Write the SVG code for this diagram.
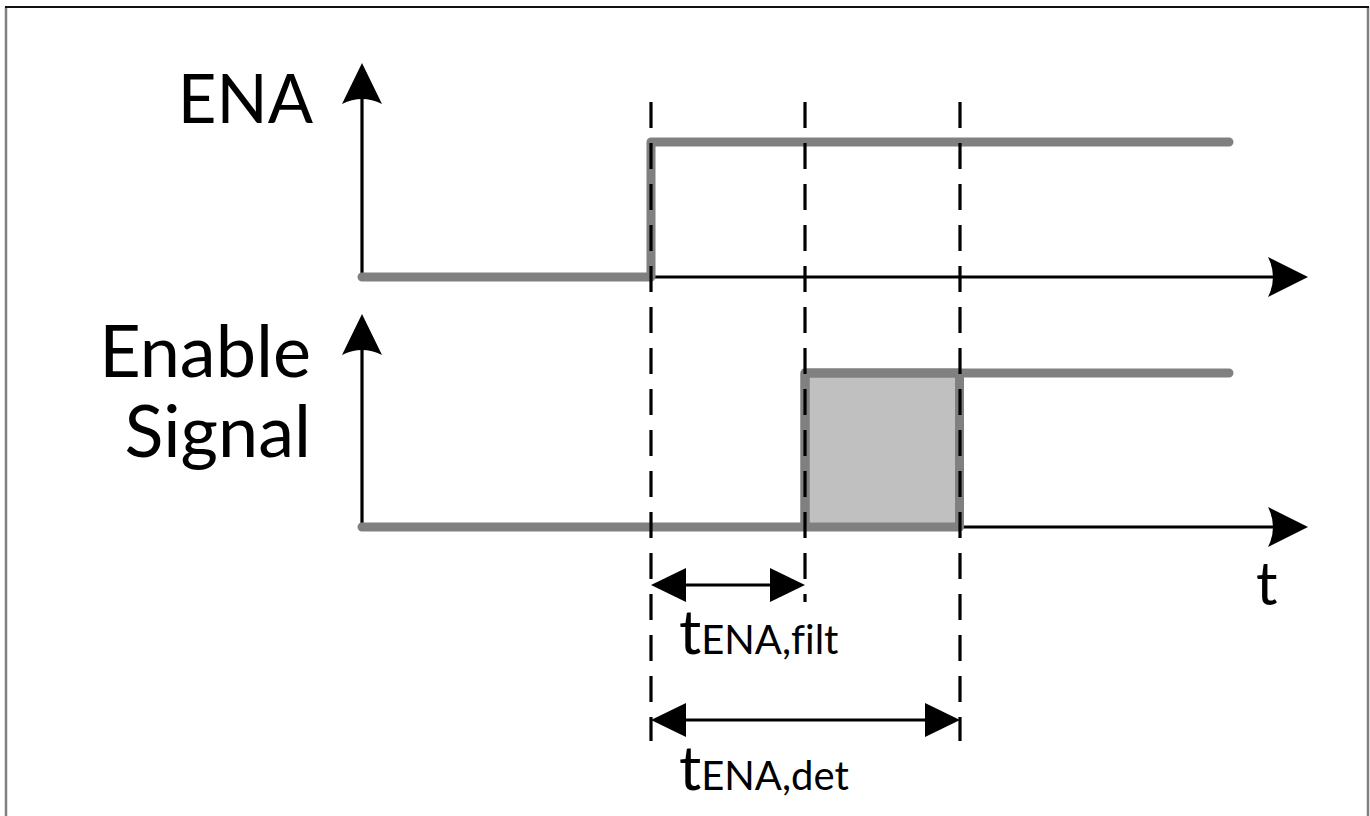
<svg xmlns="http://www.w3.org/2000/svg" width="1370" height="816" viewBox="0 0 1370 816">
<style>
.frameG{stroke:#808080;stroke-width:2.5;fill:none}
.axis{stroke:#000;stroke-width:3.2;fill:none}
.sig{stroke:#808080;stroke-width:9;fill:none;stroke-linecap:round;stroke-linejoin:round}
.dash{stroke:#000;stroke-width:3.2;fill:none;stroke-dasharray:26 15}
.head{fill:#000;stroke:none}
.lbl{font-family:Lato,"Open Sans","Liberation Sans",sans-serif;fill:#000;font-variant-ligatures:none;font-feature-settings:"liga" 0}
</style>
<rect x="0" y="0" width="1370" height="816" fill="#fff"/>
<g id="frame">
<line class="frameG" x1="6" y1="7" x2="6" y2="816"/>
<line class="frameG" x1="1368" y1="7" x2="1368" y2="816"/>
<line x1="5" y1="7" x2="1369" y2="7" stroke="#111" stroke-width="1.8"/>
</g>
<g id="connectors">
<g id="axes">
<line class="axis" x1="362" y1="98" x2="362" y2="277"/>
<line class="axis" x1="362" y1="277" x2="1275" y2="277"/>
<path class="head" d="M362,63 L382,104 Q362,94 342,104 Z"/>
<path class="head" d="M1308,277 L1268,257 Q1278,277 1268,297 Z"/>
<line class="axis" x1="362" y1="349" x2="362" y2="527"/>
<line class="axis" x1="362" y1="527" x2="1275" y2="527"/>
<path class="head" d="M362,314 L382,355 Q362,345 342,355 Z"/>
<path class="head" d="M1308,527 L1268,507 Q1278,527 1268,547 Z"/>
</g>
<g id="signals">
<path class="sig" d="M362,277 H651 V142 H1229"/>
<rect x="805" y="373" width="154.5" height="154" fill="#c0c0c0" stroke="#808080" stroke-width="9" stroke-linejoin="round"/>
<path class="sig" d="M362,527 H805 V373 H1229"/>
</g>
<g id="dashes">
<line class="dash" x1="651" y1="102" x2="651" y2="741"/>
<line class="dash" x1="805" y1="102" x2="805" y2="602"/>
<line class="dash" x1="960" y1="102" x2="960" y2="741"/>
</g>
<g id="dims">
<line class="axis" x1="680" y1="585" x2="776" y2="585"/>
<path class="head" d="M651,585 L686,568 L686,602 Z"/>
<path class="head" d="M805,585 L770,568 L770,602 Z"/>
<line class="axis" x1="680" y1="720" x2="930" y2="720"/>
<path class="head" d="M651,720 L686,703 L686,737 Z"/>
<path class="head" d="M960,720 L925,703 L925,737 Z"/>
</g>
</g>
<g id="label-ena"><text class="lbl" x="313" y="123" font-size="67" text-anchor="end">ENA</text></g>
<g id="label-enable"><text class="lbl" x="311" y="377" font-size="72" text-anchor="end">Enable</text>
<text class="lbl" x="311" y="457" font-size="72" text-anchor="end">Signal</text></g>
<g id="label-t"><text class="lbl" x="1256" y="605" font-size="60">t</text></g>
<g id="label-filt"><text class="lbl" x="679" y="654" font-size="62">t<tspan font-size="40">ENA,filt</tspan></text></g>
<g id="label-det"><text class="lbl" x="679" y="790" font-size="62">t<tspan font-size="40">ENA,det</tspan></text></g>
</svg>
